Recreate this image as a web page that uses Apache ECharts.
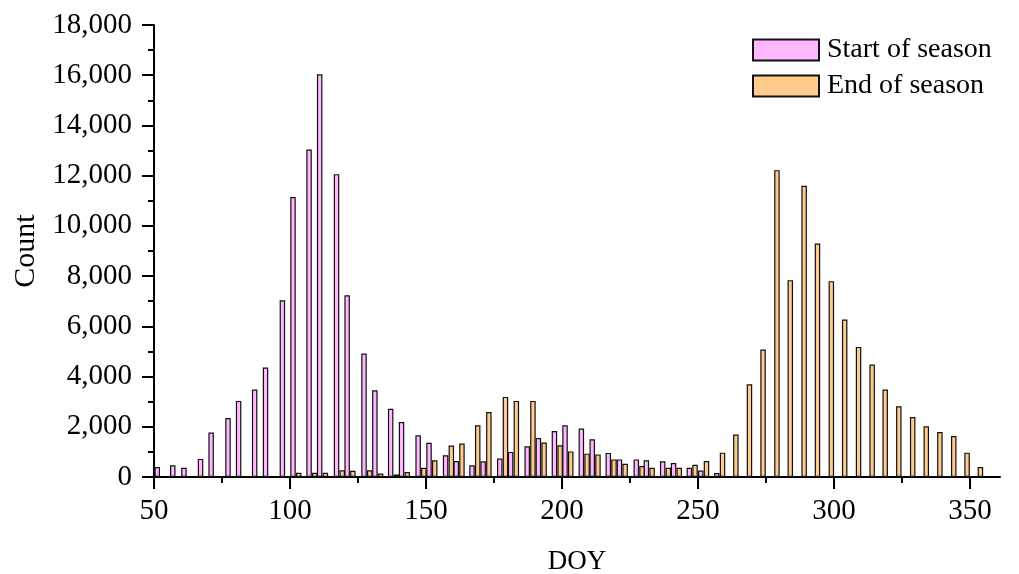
<!DOCTYPE html>
<html>
<head>
<meta charset="utf-8">
<script src="https://cdn.jsdelivr.net/npm/echarts@6/dist/echarts.min.js"></script>
<style>
html,body{margin:0;padding:0;background:#fff;}
#chart{width:1019px;height:574px;}
</style>
</head>
<body>
<div id="chart"></div>
<script>
// Start of season: bar centre (DOY) and count
const sosDoy = [51.2,56.9,61.0,67.1,71.0,77.2,81.1,87.0,91.0,97.2,101.1,107.0,110.9,117.1,121.0,127.2,131.2,137.0,141.0,147.1,151.1,157.2,161.1,166.9,171.0,177.1,181.1,187.2,191.3,197.2,201.1,207.1,211.1,217.0,221.1,227.3,231.0,237.0,241.0,246.8,251.0,256.9];
const sosCount = [400,470,370,720,1770,2350,3030,3480,4360,7040,11150,13040,16040,12060,7240,4920,3450,2720,2190,1660,1360,865,640,466,625,733,1000,1220,1550,1830,2060,1930,1500,960,700,700,665,625,560,370,255,160];
// End of season: bar centre (DOY) and count
const eosDoy = [103.2,109.1,113.0,119.2,123.1,129.3,133.3,139.1,143.1,149.2,153.2,159.3,163.2,169.0,173.1,179.2,183.2,189.3,193.4,199.3,203.2,209.2,213.2,219.1,223.2,229.4,233.1,239.1,243.1,248.9,253.1,259.0,263.9,268.9,273.9,279.0,283.9,289.0,293.9,299.0,303.9,309.0,314.0,318.8,323.8,328.9,333.9,338.9,344.0,348.9,353.8];
const eosCount = [170,170,170,270,250,270,140,100,200,370,665,1250,1330,2060,2590,3190,3030,3030,1370,1260,1020,930,900,700,530,440,370,370,370,490,640,970,1690,3690,5075,12220,7840,11600,9300,7800,6270,5180,4480,3480,2820,2390,2020,1790,1630,970,400];
// Axis ticks
const xMajorTicks = [50,100,150,200,250,300,350];
const xMinorTicks = [75,125,175,225,275,325];
const yMin = 0, yMax = 18000, yInterval = 2000;
const xMin = 50, xMax = 361;

const FONT = '"Liberation Serif","Times New Roman",serif';
const PINK = '#FFB8FF';
const ORANGE = '#FFCB8C';

const chart = echarts.init(document.getElementById('chart'), null, {renderer:'canvas'});
const option = {
  animation: false,
  backgroundColor: '#fff',
  grid: {left:154, right:19, top:25, bottom:97, containLabel:false, outerBoundsMode:'none'},
  legend: {
    orient:'vertical', left:752, top:36, padding:0, itemWidth:66, itemHeight:21, itemGap:8,
    icon:'rect',
    textStyle:{fontFamily:FONT, fontSize:28, color:'#000', padding:[0,0,0,3]},
    data:['Start of season','End of season']
  },
  xAxis: [{
    type:'value', min:xMin, max:xMax, interval:50, position:'bottom',
    name:'DOY', nameLocation:'middle', nameGap:71,
    nameTextStyle:{fontFamily:FONT, fontSize:27, color:'#000'},
    axisLine:{show:true, onZero:false, lineStyle:{color:'#000', width:2}},
    axisTick:{show:true, length:12, customValues:xMajorTicks, lineStyle:{color:'#000', width:2}},
    axisLabel:{customValues:xMajorTicks, fontFamily:FONT, fontSize:29, color:'#000', margin:20},
    splitLine:{show:false}
  },{
    type:'value', min:xMin, max:xMax, position:'bottom',
    axisLine:{show:false, onZero:false},
    axisTick:{show:true, length:6, customValues:xMinorTicks, lineStyle:{color:'#000', width:2}},
    axisLabel:{show:false},
    splitLine:{show:false}
  }],
  yAxis: {
    type:'value', min:yMin, max:yMax, interval:yInterval,
    name:'Count', nameLocation:'middle', nameGap:111, nameRotate:90,
    nameTextStyle:{fontFamily:FONT, fontSize:30, color:'#000'},
    axisLine:{show:true, onZero:false, lineStyle:{color:'#000', width:2}},
    axisTick:{show:true, length:12, lineStyle:{color:'#000', width:2}},
    minorTick:{show:true, splitNumber:2, length:6, lineStyle:{color:'#000', width:2}},
    axisLabel:{fontFamily:FONT, fontSize:29, color:'#000', margin:22,
      formatter:v=>Number(v).toLocaleString('en-US')},
    splitLine:{show:false}
  },
  series: [{
    name:'Start of season', type:'bar', xAxisIndex:0,
    barWidth:5.5,
    itemStyle:{color:PINK, borderColor:'#111', borderWidth:1.2},
    data: sosDoy.map((d,i)=>[d, sosCount[i]])
  },{
    name:'End of season', type:'bar', xAxisIndex:1,
    barWidth:5.5,
    itemStyle:{color:ORANGE, borderColor:'#111', borderWidth:1.2},
    data: eosDoy.map((d,i)=>[d, eosCount[i]])
  }]
};
chart.setOption(option);
</script>
</body>
</html>
